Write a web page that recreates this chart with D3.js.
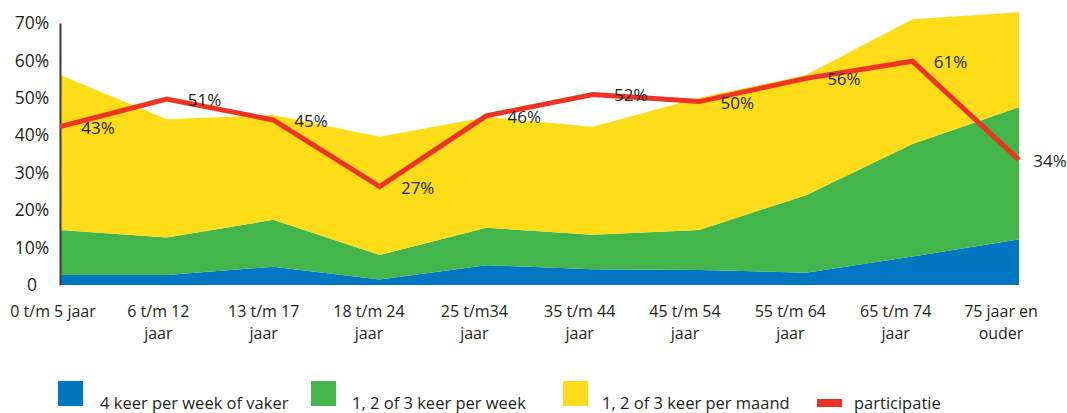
<!DOCTYPE html>
<html>
<head>
<meta charset="utf-8">
<script src="https://cdn.jsdelivr.net/npm/d3@7"></script>
<style>
	body { margin: 0; background: #fff; }
	text { font-family: "Open Sans", sans-serif; fill: #231f20; }
</style>
</head>
<body>
<svg id="chart" width="1067" height="413"></svg>
<script>
// ==================================
// data
// ==================================
var categories = [
	["0 t/m 5 jaar"],
	["6 t/m 12", "jaar"],
	["13 t/m 17", "jaar"],
	["18 t/m 24", "jaar"],
	["25 t/m34", "jaar"],
	["35 t/m 44", "jaar"],
	["45 t/m 54", "jaar"],
	["55 t/m 64", "jaar"],
	["65 t/m 74", "jaar"],
	["75 jaar en", "ouder"]
];

// stacked shares (%)
var vierKeerPerWeek = [2.7, 2.7, 4.9, 1.5, 5.3, 4.2, 4.0, 3.3, 7.6, 12.2];
var keerPerWeek     = [12.0, 10.0, 12.5, 6.5, 10.0, 9.2, 10.7, 20.7, 30.1, 35.3];
var keerPerMaand    = [41.4, 31.6, 28.0, 31.6, 29.6, 28.9, 35.3, 32.1, 33.3, 25.4];

// participation line, as drawn, and its printed labels
var participatie = [42.3, 49.7, 44.1, 26.3, 45.2, 50.9, 49.0, 55.2, 59.8, 33.4];
var participatieLabels = ["43%", "51%", "45%", "27%", "46%", "52%", "50%", "56%", "61%", "34%"];

var yTicks = [0, 10, 20, 30, 40, 50, 60, 70];

var series = [
	{ name: "4 keer per week of vaker", values: vierKeerPerWeek, color: "#0077c0" },
	{ name: "1, 2 of 3 keer per week", values: keerPerWeek, color: "#43b54b" },
	{ name: "1, 2 of 3 keer per maand", values: keerPerMaand, color: "#fedd18" }
];
var RED = "#ee3224";

// ==================================
// scales
// ==================================
var svg = d3.select("#chart");
var idx = d3.range(categories.length);

var x = d3.scalePoint().domain(idx).range([60, 1019]);
var xLabel = d3.scalePoint().domain(idx).range([53, 1001]);
var y = d3.scaleLinear().domain([0, 70]).range([285, 23]);

// ==================================
// stacked areas
// ==================================
var rows = idx.map(function(i) {
	var r = { i: i };
	series.forEach(function(s, k) { r["s" + k] = s.values[i]; });
	return r;
});

var stack = d3.stack().keys(series.map(function(s, k) { return "s" + k; }));
var layers = stack(rows);

var area = d3.area()
	.x(function(d) { return x(d.data.i); })
	.y0(function(d) { return y(d[0]); })
	.y1(function(d) { return y(d[1]); });

svg.append("g").selectAll("path")
	.data(layers)
	.enter().append("path")
	.attr("d", area)
	.attr("fill", function(d, k) { return series[k].color; });

// ==================================
// y axis
// ==================================
var yAxis = svg.append("g")
	.attr("transform", "translate(60,0)")
	.call(d3.axisLeft(y).tickValues(yTicks).tickSize(0).tickFormat(function(d) { return d === 0 ? "0" : d + "%"; }));

yAxis.select(".domain").attr("stroke", "#3a3a3a").attr("stroke-width", 2);
yAxis.selectAll("text")
	.attr("x", -28)
	.attr("text-anchor", "middle")
	.style("font-family", "'Open Sans', sans-serif")
	.style("font-size", "17.5px")
	.attr("fill", "#231f20");

// ==================================
// participation line
// ==================================
var line = d3.line()
	.x(function(d, i) { return x(i); })
	.y(function(d) { return y(d); });

svg.append("path")
	.datum(participatie)
	.attr("d", line)
	.attr("fill", "none")
	.attr("stroke", RED)
	.attr("stroke-width", 5)
	.attr("stroke-linejoin", "miter");

svg.append("g").selectAll("text")
	.data(participatie)
	.enter().append("text")
	.attr("x", function(d, i) { return Math.min(x(i) + 38, 1050); })
	.attr("y", function(d) { return y(d) + 1; })
	.attr("dy", "0.35em")
	.attr("text-anchor", "middle")
	.style("font-size", "17px")
	.text(function(d, i) { return participatieLabels[i]; });

// ==================================
// x labels (one text per line)
// ==================================
var xg = svg.append("g").selectAll("g")
	.data(categories)
	.enter().append("g")
	.attr("transform", function(d, i) { return "translate(" + xLabel(i) + ",317)"; });

xg.selectAll("text")
	.data(function(d) { return d; })
	.enter().append("text")
	.attr("text-anchor", "middle")
	.attr("y", function(d, j) { return j * 22; })
	.style("font-size", "16px")
	.text(function(d) { return d; });

// ==================================
// legend
// ==================================
var legendItems = series.map(function(s) { return { name: s.name, color: s.color, type: "box" }; });
legendItems.push({ name: "participatie", color: RED, type: "line" });

var legendX = [58, 311, 563, 817];
var legendTextX = [100, 352, 602, 854];

var lg = svg.append("g").selectAll("g")
	.data(legendItems)
	.enter().append("g");

lg.append("rect")
	.attr("x", function(d, i) { return legendX[i]; })
	.attr("y", function(d) { return d.type === "box" ? 381 : 399; })
	.attr("width", 25)
	.attr("height", function(d) { return d.type === "box" ? 25 : 8; })
	.attr("fill", function(d) { return d.color; });

lg.append("text")
	.attr("x", function(d, i) { return legendTextX[i]; })
	.attr("y", 409)
	.style("font-size", "16.5px")
	.text(function(d) { return d.name; });
</script>
</body>
</html>
